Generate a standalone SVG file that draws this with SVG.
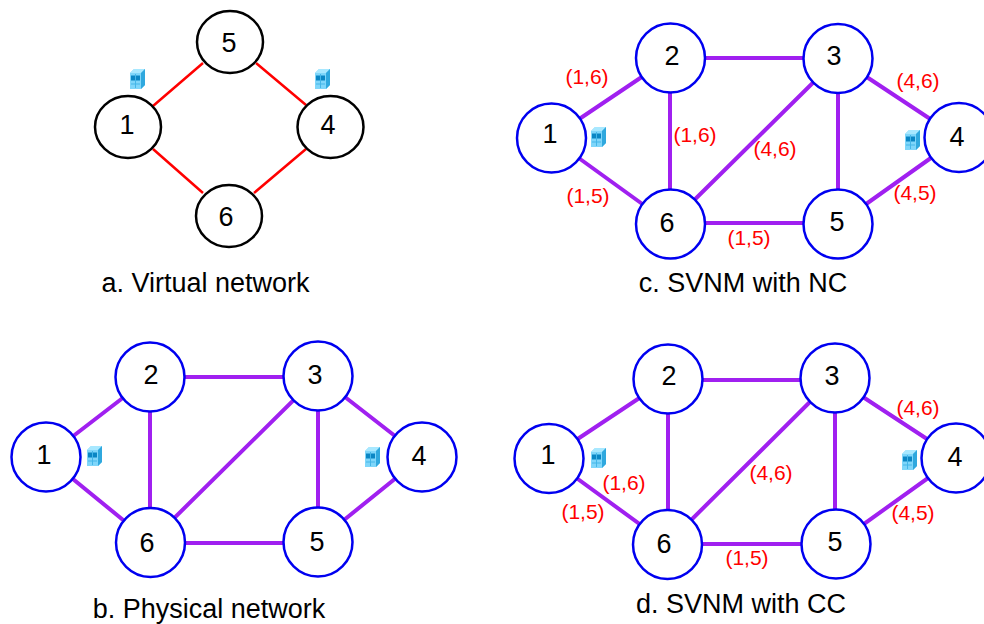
<svg xmlns="http://www.w3.org/2000/svg" width="984" height="624" viewBox="0 0 984 624">
<style>
text{font-family:"Liberation Sans",Arial,sans-serif}
.n{fill:#fff}
.v{stroke:#000;stroke-width:2.500}.p{stroke:#0000f0;stroke-width:2.500}
.t{font-size:27px;text-anchor:middle;fill:#000}
.cap{font-size:27px;text-anchor:middle;fill:#000}
.l{font-size:21px;text-anchor:middle;fill:#f00}
.r{stroke:#f00;stroke-width:2.500;fill:none}
.m{stroke:#a020f0;stroke-width:4;fill:none}
</style>
<defs>
<g id="cube">
<path d="M0 4 L4 0 H15 V16 L11 20 H0Z" fill="#7fd6fa"/>
<path d="M0 4 L4 0 H15 L11 4Z" fill="#a8e8ff"/>
<path d="M11 4 L15 0 V16 L11 20Z" fill="#2fa8de"/>
<rect x="1" y="6.500" width="9" height="5" fill="#0a86c4"/>
<path d="M5.500 5V19M1 15H10" stroke="#45b6e8" stroke-width="1"/>
</g>
</defs>
<g id="connectors">
<path class="r" d="M153 106L203 63M256 63L306 105M153 149L203 193M306 149L254 193"/>
<path class="m" d="M46 457L150 377M46 457L150 542M150 377H318M150 377V542M318 376L150 542M318 376V541M318 376L422 457M422 457L318 541M150 543H318"/>
<path class="m" d="M551 138L670 58M551 138L670 224M670 58H838M670 58V224M838 58L670 224M838 58V224M838 58L959 138M959 138L838 224M670 223H838"/>
<path class="m" d="M549 458L668 379M549 458L667 544M668 380H834M668 379V544M834 378L667 544M835 378V544M834 378L956 458M956 458L836 544M667 544H836"/>
</g>
<g id="a1"><ellipse class="n v" cx="128" cy="127" rx="33" ry="31"/><text class="t" x="127" y="134">1</text></g>
<g id="a5"><ellipse class="n v" cx="230" cy="42" rx="33" ry="31"/><text class="t" x="229" y="52">5</text></g>
<g id="a4"><ellipse class="n v" cx="330.500" cy="127" rx="33" ry="31"/><text class="t" x="328" y="134">4</text></g>
<g id="a6"><ellipse class="n v" cx="229" cy="216" rx="33" ry="31"/><text class="t" x="226" y="226">6</text></g>
<g id="b1"><circle class="n p" cx="46" cy="457" r="34.500"/><text class="t" x="44" y="464">1</text></g>
<g id="b2"><circle class="n p" cx="150" cy="377" r="34.500"/><text class="t" x="151" y="384">2</text></g>
<g id="b3"><circle class="n p" cx="318" cy="376" r="34.500"/><text class="t" x="315" y="384">3</text></g>
<g id="b4"><circle class="n p" cx="422" cy="457" r="34.500"/><text class="t" x="419" y="465">4</text></g>
<g id="b5"><circle class="n p" cx="318" cy="542" r="34.500"/><text class="t" x="317" y="551">5</text></g>
<g id="b6"><circle class="n p" cx="150.500" cy="542.500" r="34.500"/><text class="t" x="147" y="552">6</text></g>
<g id="c1"><circle class="n p" cx="551.500" cy="138" r="34.500"/><text class="t" x="550" y="143">1</text></g>
<g id="c2"><circle class="n p" cx="670.500" cy="58" r="34.500"/><text class="t" x="672" y="65">2</text></g>
<g id="c3"><circle class="n p" cx="838" cy="58.500" r="34.500"/><text class="t" x="834" y="65">3</text></g>
<g id="c4"><circle class="n p" cx="959" cy="137.500" r="34.500"/><text class="t" x="957" y="146">4</text></g>
<g id="c5"><circle class="n p" cx="838" cy="224" r="34.500"/><text class="t" x="837" y="231">5</text></g>
<g id="c6"><circle class="n p" cx="670.500" cy="224" r="34.500"/><text class="t" x="667" y="232">6</text></g>
<g id="d1"><circle class="n p" cx="549" cy="458.500" r="34.500"/><text class="t" x="548" y="464">1</text></g>
<g id="d2"><circle class="n p" cx="668" cy="379" r="34.500"/><text class="t" x="669" y="385">2</text></g>
<g id="d3"><circle class="n p" cx="835" cy="378" r="34.500"/><text class="t" x="832" y="385">3</text></g>
<g id="d4"><circle class="n p" cx="956" cy="458" r="34.500"/><text class="t" x="955" y="466">4</text></g>
<g id="d5"><circle class="n p" cx="836" cy="544" r="34.500"/><text class="t" x="835" y="551">5</text></g>
<g id="d6"><circle class="n p" cx="667.500" cy="544.500" r="34.500"/><text class="t" x="664" y="553">6</text></g>
<g id="icons">
<use href="#cube" x="130" y="69"/><use href="#cube" x="315" y="69"/>
<use href="#cube" x="87" y="446"/><use href="#cube" x="365" y="447"/>
<use href="#cube" x="591" y="127"/><use href="#cube" x="905" y="130"/>
<use href="#cube" x="591" y="448"/><use href="#cube" x="902" y="450"/>
</g>
<g id="labels">
<text class="l" x="587" y="84">(1,6)</text><text class="l" x="588" y="203">(1,5)</text>
<text class="l" x="695" y="142">(1,6)</text><text class="l" x="775" y="156">(4,6)</text>
<text class="l" x="918" y="88">(4,6)</text><text class="l" x="915" y="200">(4,5)</text>
<text class="l" x="749" y="245">(1,5)</text>
<text class="l" x="624" y="490">(1,6)</text><text class="l" x="583" y="519">(1,5)</text>
<text class="l" x="771" y="480">(4,6)</text><text class="l" x="918" y="415">(4,6)</text>
<text class="l" x="913" y="520">(4,5)</text><text class="l" x="747" y="565">(1,5)</text>
</g>
<g id="captions">
<text class="cap" x="205.500" y="292">a. Virtual network</text>
<text class="cap" x="209" y="618">b. Physical network</text>
<text class="cap" x="743" y="292">c. SVNM with NC</text>
<text class="cap" x="741" y="613">d. SVNM with CC</text>
</g>
</svg>
